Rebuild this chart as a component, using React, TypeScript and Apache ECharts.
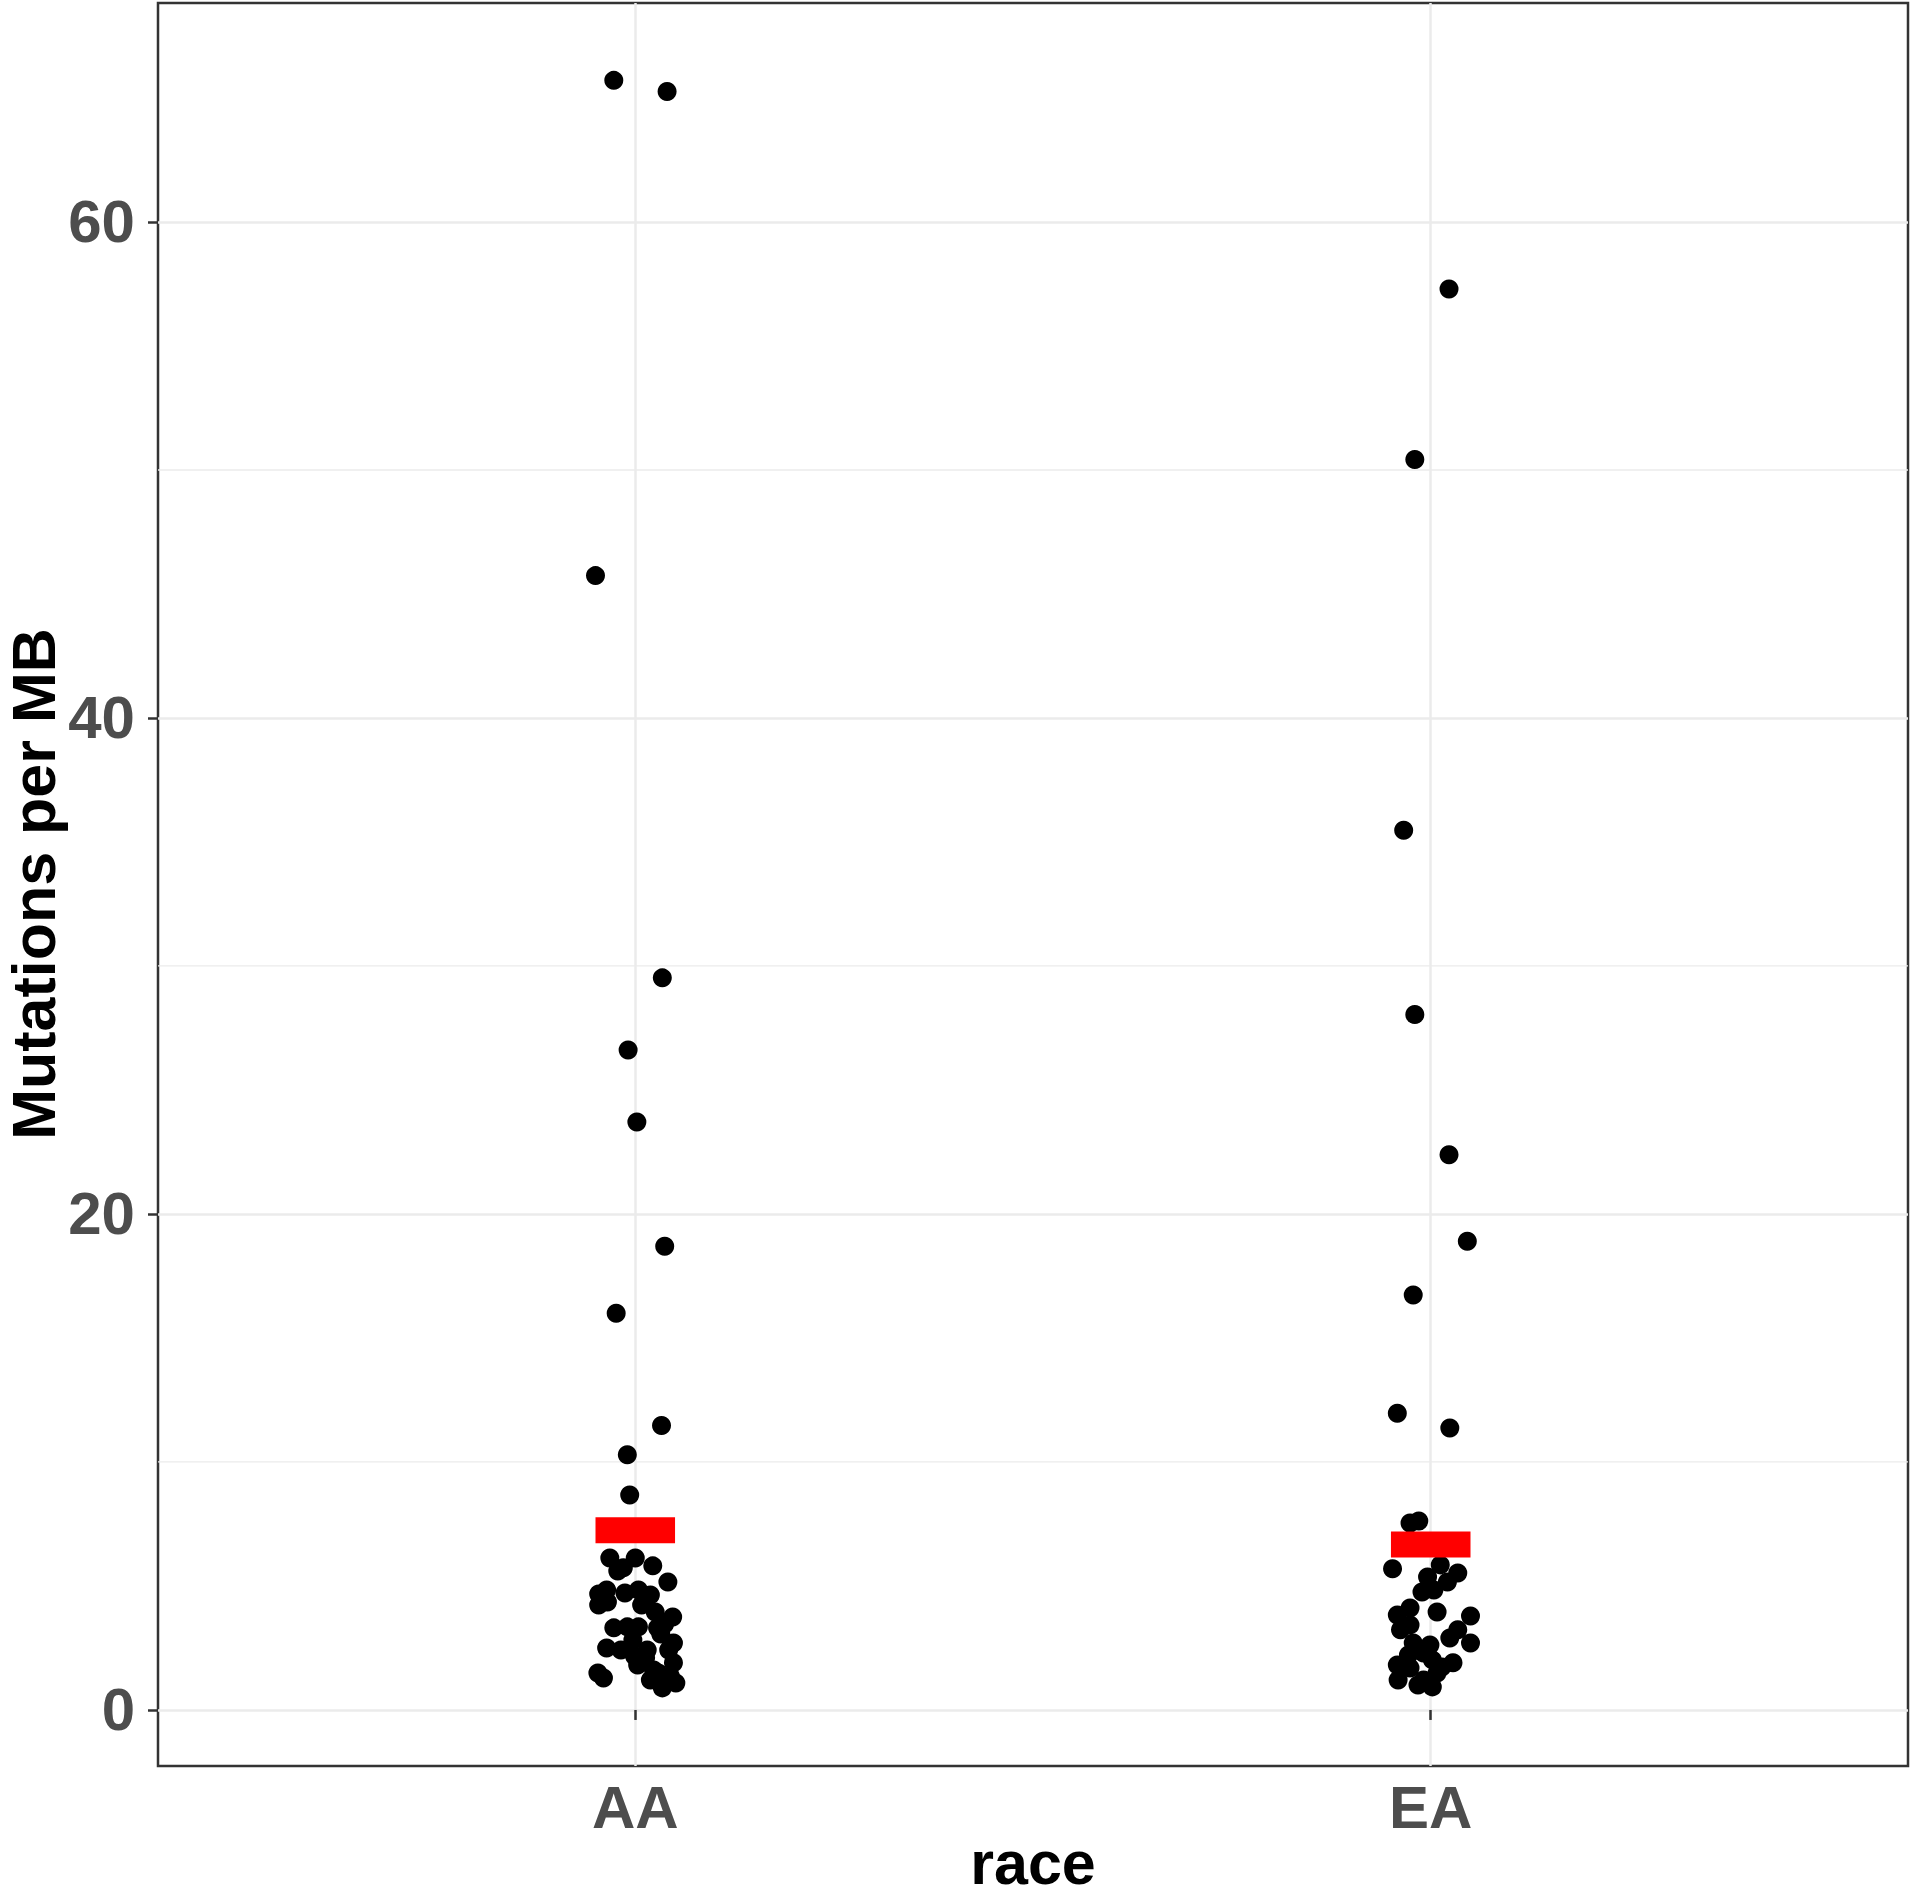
import React, { useEffect, useRef } from "react";
import * as echarts from "echarts";

const categories = ["AA", "EA"];
const categoryPositions = [1, 2];
const yTicks = [0, 20, 40, 60];
const yMinorGrid = [10, 30, 50];
const groupMeans = [7.25, 6.67];
const xTitle = "race";
const yTitle = "Mutations per MB";

const aaX = [
  0.973, 1.04, 0.95, 1.034, 0.991, 1.002, 1.037, 0.976, 1.033, 0.99, 0.993,
  0.968, 1.0, 1.022, 0.978, 0.985, 1.041,
  0.954, 0.964, 0.987, 1.004, 1.019,
  0.954, 0.965, 1.008, 1.025, 1.047,
  0.973, 0.99, 1.004, 1.028, 1.037, 1.032,
  0.964, 0.982, 1.015, 1.048, 0.997, 1.042,
  1.003, 1.023, 1.048, 1.013, 0.999,
  0.953, 0.96, 1.019, 1.032, 1.044, 1.034, 1.051, 1.029,
];
const aaY = [
  65.71, 65.26, 45.74, 29.52, 26.61, 23.71, 18.7, 16.0, 11.47, 10.29, 8.67,
  6.13, 6.13, 5.81, 5.6, 5.73, 5.16,
  4.68, 4.84, 4.72, 4.84, 4.64,
  4.23, 4.35, 4.23, 3.95, 3.75,
  3.31, 3.35, 3.35, 3.31, 3.47, 3.06,
  2.5, 2.42, 2.42, 2.7, 2.82, 2.42,
  1.81, 1.61, 1.9, 2.1, 2.18,
  1.49, 1.29, 1.21, 1.09, 1.37, 0.89, 1.09, 1.49,
];

const eaX = [
  2.023, 1.98, 1.966, 1.98, 2.023, 2.046, 1.978, 1.958, 2.024,
  1.974, 1.985, 1.952, 2.012, 1.996, 2.034, 2.021, 1.989, 2.004,
  1.974, 1.958, 2.008, 2.05, 1.962, 1.974, 2.034, 2.024, 2.05,
  1.978, 1.999, 1.991, 1.972, 1.958, 1.974, 2.002, 2.028, 2.014,
  1.959, 1.991, 2.002, 1.984, 2.008,
];
const eaY = [
  57.3, 50.42, 35.47, 28.04, 22.39, 18.9, 16.73, 11.96, 11.37,
  7.54, 7.62, 5.69, 5.85, 5.36, 5.52, 5.16, 4.76, 4.84,
  4.11, 3.83, 3.95, 3.79, 3.23, 3.43, 3.23, 2.9, 2.7,
  2.7, 2.62, 2.3, 2.22, 1.81, 1.69, 2.02, 1.9, 1.73,
  1.21, 1.21, 0.93, 1.01, 1.49,
];

const FONT = "'Liberation Sans', Arial, Helvetica, sans-serif";

export default function App() {
  const ref = useRef<HTMLDivElement>(null);

  useEffect(() => {
    document.body.style.margin = "0";
    if (!ref.current) return;
    const chart = echarts.init(ref.current, undefined, { renderer: "svg" });

    const points = [
      ...aaX.map((x, i) => [x, aaY[i]]),
      ...eaX.map((x, i) => [x, eaY[i]]),
    ];

    const titleStyle = {
      fontFamily: FONT,
      fontWeight: "bold",
      fontSize: 61,
      fill: "#000000",
      align: "center",
      verticalAlign: "middle",
    };

    const option: any = {
      animation: false,
      backgroundColor: "#ffffff",
      grid: {
        left: 158,
        right: 4,
        top: 3,
        bottom: 131,
        show: true,
        borderColor: "#333333",
        borderWidth: 2.5,
        backgroundColor: "transparent",
        containLabel: false,
        outerBoundsMode: "none",
      },
      graphic: [
        {
          type: "text",
          x: 34,
          y: 884,
          rotation: Math.PI / 2,
          silent: true,
          style: { ...titleStyle, text: yTitle },
        },
        {
          type: "text",
          x: 1033,
          y: 1863,
          silent: true,
          style: { ...titleStyle, text: xTitle },
        },
      ],
      xAxis: {
        type: "value",
        min: 0.4,
        max: 2.6,
        axisLine: { show: false },
        axisTick: {
          show: true,
          customValues: categoryPositions,
          length: 10,
          lineStyle: { color: "#333333", width: 2.5 },
        },
        axisLabel: {
          customValues: categoryPositions,
          margin: 11,
          fontFamily: FONT,
          fontWeight: "bold",
          fontSize: 60,
          color: "#4d4d4d",
          formatter: (v: number) => {
            const i = categoryPositions.indexOf(Math.round(v));
            return i >= 0 ? categories[i] : "";
          },
        },
        splitLine: {
          show: true,
          lineStyle: { color: "#ebebeb", width: 2.5 },
        },
      },
      yAxis: {
        type: "value",
        min: -2.26,
        max: 68.83,
        axisLine: { show: false },
        axisTick: {
          show: true,
          customValues: yTicks,
          length: 10,
          lineStyle: { color: "#333333", width: 2.5 },
        },
        axisLabel: {
          customValues: yTicks,
          margin: 23,
          fontFamily: FONT,
          fontWeight: "bold",
          fontSize: 60,
          color: "#4d4d4d",
        },
        splitLine: {
          show: true,
          lineStyle: { color: "#ebebeb", width: 2.5 },
        },
      },
      series: [
        {
          type: "custom",
          name: "minorGrid",
          silent: true,
          z: 0,
          data: yMinorGrid.map((v) => [0.4, v]),
          renderItem: (params: any, api: any) => {
            const y = api.coord([0.4, api.value(1)])[1];
            const cs = params.coordSys;
            return {
              type: "line",
              shape: { x1: cs.x, y1: y, x2: cs.x + cs.width, y2: y },
              style: { stroke: "#ebebeb", lineWidth: 1.3 },
            };
          },
        },
        {
          type: "scatter",
          name: "points",
          symbol: "circle",
          symbolSize: 19,
          z: 3,
          itemStyle: { color: "#000000", opacity: 1 },
          data: points,
        },
        {
          type: "custom",
          name: "mean",
          z: 5,
          data: categoryPositions.map((c, i) => [c, groupMeans[i]]),
          renderItem: (params: any, api: any) => {
            const c = api.value(0);
            const v = api.value(1);
            const p1 = api.coord([c - 0.05, v]);
            const p2 = api.coord([c + 0.05, v]);
            return {
              type: "rect",
              shape: { x: p1[0], y: p1[1] - 13, width: p2[0] - p1[0], height: 26 },
              style: { fill: "#ff0000" },
            };
          },
        },
      ],
    };

    chart.setOption(option);
    return () => chart.dispose();
  }, []);

  return <div ref={ref} style={{ width: 1912, height: 1897 }} />;
}
